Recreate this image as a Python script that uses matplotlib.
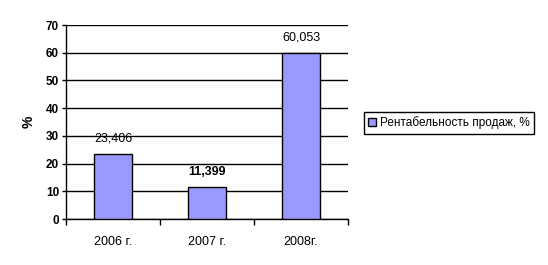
import matplotlib.pyplot as plt
import numpy as np

plt.rcParams['font.family'] = ['Liberation Sans', 'DejaVu Sans']

years = ["2006 г.", "2007 г.", "2008г."]
values = [23.406, 11.399, 60.053]
value_labels = ["23,406", "11,399", "60,053"]
label_bold = [False, True, False]
series_name = "Рентабельность продаж, %"

fig = plt.figure(figsize=(5.48, 2.65), dpi=100)
ax = fig.add_axes([66 / 548, 1 - 219 / 265, (348 - 66) / 548, (219 - 25) / 265])

x = np.arange(len(years))
bars = ax.bar(x, values, 0.41, color="#9999FF", edgecolor="black", linewidth=1,
              label=series_name, zorder=3)

for bar, txt, b in zip(bars, value_labels, label_bold):
    ax.text(bar.get_x() + bar.get_width() / 2, bar.get_height() + 3.3, txt,
            ha="center", va="bottom", fontsize=9,
            fontweight="bold" if b else "normal")

ax.set_xlim(-0.5, 2.5)
ax.set_ylim(0, 70)
ax.set_yticks(range(0, 71, 10))
ax.grid(axis="y", color="black", linewidth=1, zorder=0)
ax.set_xticks(x)
ax.set_xticklabels(years, fontsize=9)
ax.set_xticks([-0.5, 0.5, 1.5, 2.5], minor=True)
ax.tick_params(axis="x", which="major", length=0, pad=12)
ax.tick_params(axis="x", which="minor", length=4, width=1, direction="out")
ax.tick_params(axis="y", length=3, width=1, labelsize=8.5, pad=2)
for lbl in ax.get_yticklabels():
    lbl.set_fontweight("bold")

ax.spines["top"].set_visible(False)
ax.spines["right"].set_visible(False)
ax.spines["left"].set_linewidth(1)
ax.spines["bottom"].set_linewidth(1)

ax.set_ylabel("%", fontsize=10, fontweight="bold", labelpad=7)

ax.legend(loc="center left", bbox_to_anchor=(358 / 548, 1 - 123 / 265),
          bbox_transform=fig.transFigure, fontsize=8.5, frameon=True,
          fancybox=False, edgecolor="black", handlelength=0.7, handleheight=0.7,
          handletextpad=0.3, borderpad=0.35, framealpha=1)

fig.savefig("out.png", dpi=100)
